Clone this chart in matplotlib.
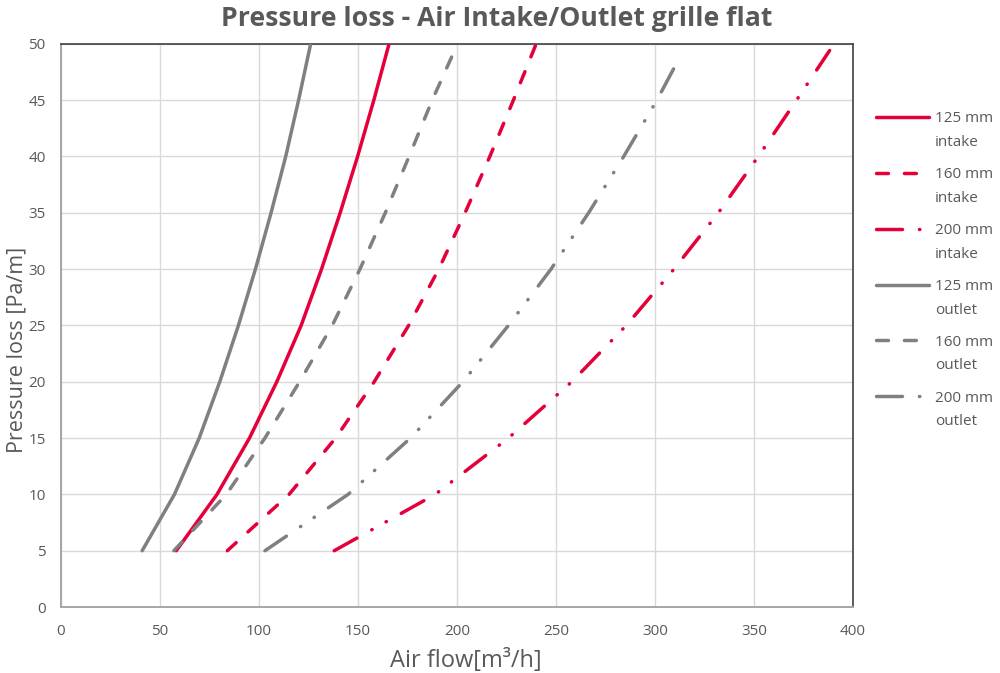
import numpy as np
import matplotlib
matplotlib.use("Agg")
import matplotlib.pyplot as plt
from matplotlib.legend_handler import HandlerLine2D

# ---- data ----
p_std = [5, 10, 15, 20, 25, 30, 35, 40, 45, 50]

intake_125_q = [58.2, 78.8, 95.2, 109, 121.3, 131.6, 141, 149.8, 158, 165.7]
intake_125_p = p_std

intake_160_q = [84, 115.2, 138.7, 158.2, 175.6, 190.8, 204.1, 216.6, 228.5, 240]
intake_160_p = p_std

intake_200_q = [138, 189, 226, 258, 285.5, 309.6, 332, 352.2, 371.5, 388.2]
intake_200_p = [5, 10, 15, 20, 25, 30, 35, 40, 45, 49.4]

outlet_125_q = [41, 57.3, 69.8, 80.2, 89.6, 98.2, 106.1, 113.5, 120, 126.1]
outlet_125_p = p_std

outlet_160_q = [57, 83.5, 103, 120.5, 137, 151, 163.8, 175.8, 187.5, 198]
outlet_160_p = [5, 10, 15, 20, 25, 30, 35, 40, 45, 49.1]

outlet_200_q = [103, 145, 176.5, 203, 226, 247.5, 266.5, 284.2, 301, 312.5]
outlet_200_p = [5, 10, 15, 20, 25, 30, 35, 40, 45, 48.8]

labels = ["125 mm\nintake", "160 mm\nintake", "200 mm\nintake",
          "125 mm\noutlet", "160 mm\noutlet", "200 mm\noutlet"]

title = "Pressure loss - Air Intake/Outlet grille flat"
xlabel = "Air flow[m³/h]"
ylabel = "Pressure loss [Pa/m]"
xticks = [0, 50, 100, 150, 200, 250, 300, 350, 400]
yticks = [0, 5, 10, 15, 20, 25, 30, 35, 40, 45, 50]

# ---- style ----
plt.rcParams['font.family'] = ['Open Sans', 'DejaVu Sans']
plt.rcParams['lines.scale_dashes'] = False
RED = '#E5003B'
GRAY = '#808080'
TXT = '#595959'

solid = '-'
dashed = (0, (8.6, 11.5))
dashdotdot = (0, (18.7, 12.2, 0.3, 11.5, 0.3, 12.2))

fig = plt.figure(figsize=(10, 6.73), dpi=100)
ax = fig.add_axes([0.061, 0.098, 0.792, 0.837])

series = [
    (intake_125_q, intake_125_p, RED, solid),
    (intake_160_q, intake_160_p, RED, dashed),
    (intake_200_q, intake_200_p, RED, dashdotdot),
    (outlet_125_q, outlet_125_p, GRAY, solid),
    (outlet_160_q, outlet_160_p, GRAY, dashed),
    (outlet_200_q, outlet_200_p, GRAY, dashdotdot),
]
handles = []
for (q, p, c, ls), lab in zip(series, labels):
    h, = ax.plot(q, p, color=c, linestyle=ls, linewidth=2.5,
                 dash_capstyle='round', solid_capstyle='round',
                 solid_joinstyle='round', label=lab, zorder=3)
    handles.append(h)

ax.set_xlim(0, 400)
ax.set_ylim(0, 50)
ax.set_xticks(xticks)
ax.set_yticks(yticks)
ax.grid(True, color='#d9d9d9', linewidth=1.0, zorder=0)
ax.set_axisbelow(True)
ax.tick_params(axis='both', length=0, labelsize=11, labelcolor=TXT)
ax.tick_params(axis='y', pad=11)
ax.tick_params(axis='x', pad=12)
for s in ['top', 'right']:
    ax.spines[s].set_color('#404040')
    ax.spines[s].set_linewidth(1.2)
for s in ['left', 'bottom']:
    ax.spines[s].set_color('#a6a6a6')
    ax.spines[s].set_linewidth(1.4)

ax.set_xlabel(xlabel, fontsize=17, color=TXT, va='center')
ax.set_ylabel(ylabel, fontsize=15.5, color=TXT, va='center')
ax.xaxis.set_label_coords(0.511, -0.096)
ax.yaxis.set_label_coords(-0.055, 0.456)

fig.text(0.497, 0.972, title, ha='center', va='center', fontsize=19.2,
         fontweight='bold', color=TXT)


class UpperHandler(HandlerLine2D):
    def __init__(self, shift, **kw):
        super().__init__(**kw)
        self.shift = shift

    def create_artists(self, legend, orig_handle, xdescent, ydescent, width,
                       height, fontsize, trans):
        arts = super().create_artists(legend, orig_handle, xdescent, ydescent,
                                      width, height, fontsize, trans)
        for a in arts:
            a.set_ydata(np.asarray(a.get_ydata()) + self.shift * fontsize)
        return arts


hm = {h: UpperHandler(0.90) for h in handles}
leg = ax.legend(handles=handles, labels=labels, handler_map=hm,
                loc='upper left', bbox_to_anchor=(0.876, 1 - 111 / 673),
                bbox_transform=fig.transFigure, frameon=False,
                fontsize=11, labelcolor=TXT, handlelength=3.5,
                handletextpad=0.35, labelspacing=1.12,
                borderpad=0, borderaxespad=0)
for t in leg.get_texts():
    t.set_linespacing(1.8)

fig.savefig('out.png', dpi=100)
